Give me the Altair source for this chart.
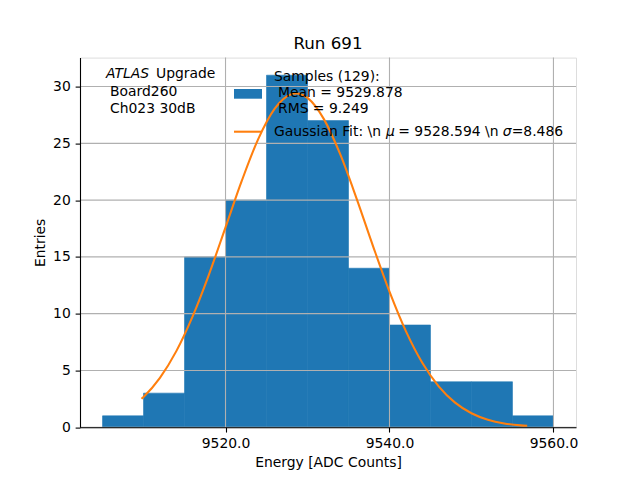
import altair as alt
import pandas as pd

# Histogram bins (ADC counts) and entries
bin_start = [9505, 9510, 9515, 9520, 9525, 9530, 9535, 9540, 9545, 9550, 9555]
bin_end = [9510, 9515, 9520, 9525, 9530, 9535, 9540, 9545, 9550, 9555, 9560]
counts = [1, 3, 15, 20, 31, 27, 14, 9, 4, 4, 1]

# Gaussian fit curve
fit_x = [9509.75, 9510, 9512, 9514, 9516, 9518, 9520, 9522, 9524, 9526, 9528, 9528.6,
         9530, 9532, 9534, 9536, 9538, 9540, 9542, 9544, 9546, 9548, 9550, 9552,
         9554, 9556, 9556.8]
fit_y = [2.50, 2.67, 4.35, 6.70, 9.78, 13.49, 17.60, 21.73, 25.39, 28.05, 29.33, 29.40,
         29.00, 27.13, 24.02, 20.11, 15.93, 11.94, 8.46, 5.67, 3.60, 2.16, 1.23, 0.66,
         0.33, 0.16, 0.12]

x_ticks = [9520, 9540, 9560]
y_ticks = [0, 5, 10, 15, 20, 25, 30]

title_text = "Run 691"
x_title = "Energy [ADC Counts]"
y_title = "Entries"
label_lines = ["Board260", "Ch023 30dB"]
samples_lines = ["Samples (129):", "Mean = 9529.878", "RMS = 9.249"]

FONT = "DejaVu Sans"
FS = 13.9
BLUE = "#1f77b4"
ORANGE = "#ff7f0e"

hist = pd.DataFrame({"start": bin_start, "end": bin_end, "count": counts})
fit = pd.DataFrame({"x": fit_x, "y": fit_y})

xs = alt.Scale(domain=[9502.25, 9562.75], nice=False, zero=False)
ys = alt.Scale(domain=[0, 32.55], nice=False, zero=False)

common_axis = dict(
    grid=False, tickSize=4.86, tickWidth=1.1, tickColor="black",
    domainColor="black", domainWidth=1.1, labelFont=FONT, labelFontSize=FS,
    labelColor="black", labelPadding=4.86, titleFont=FONT, titleFontSize=FS,
    titleFontWeight="normal", titleColor="black", zindex=1,
    labelFlush=False, labelOverlap=False,
)

xaxis = alt.Axis(values=x_ticks, format=".1f", title=x_title, titlePadding=5.0, **common_axis)
yaxis = alt.Axis(values=y_ticks, format="d", title=y_title, titlePadding=5.6, **common_axis)

bars = alt.Chart(hist).mark_rect(color=BLUE, stroke=BLUE, strokeWidth=0.6).encode(
    x=alt.X("start:Q", scale=xs, axis=xaxis),
    x2="end:Q",
    y=alt.Y("count:Q", scale=ys, axis=yaxis),
    y2=alt.datum(0),
)

vgrid = alt.Chart(pd.DataFrame({"v": x_ticks})).mark_rule(color="#b0b0b0", strokeWidth=1.1).encode(
    x=alt.X("v:Q", scale=xs, axis=xaxis)
)
hgrid = alt.Chart(pd.DataFrame({"v": y_ticks})).mark_rule(color="#b0b0b0", strokeWidth=1.1).encode(
    y=alt.Y("v:Q", scale=ys, axis=yaxis)
)

curve = alt.Chart(fit).mark_line(color=ORANGE, strokeWidth=2.08, interpolate="monotone").encode(
    x=alt.X("x:Q", scale=xs, axis=xaxis),
    y=alt.Y("y:Q", scale=ys, axis=yaxis),
)


def txt(s, x, y, style="normal", size=FS, align="left"):
    return alt.Chart(pd.DataFrame({"t": [s]})).mark_text(
        align=align, baseline="alphabetic", font=FONT, fontSize=size,
        fontStyle=style, color="black"
    ).encode(x=alt.value(x), y=alt.value(y), text="t:N")


one = pd.DataFrame({"k": [0]})
patch = alt.Chart(one).mark_rect(color=BLUE).encode(
    x=alt.value(154), x2=alt.value(182), y=alt.value(31.4), y2=alt.value(41.1)
)
leg_line = alt.Chart(one).mark_rule(color=ORANGE, strokeWidth=2.08).encode(
    x=alt.value(154), x2=alt.value(182), y=alt.value(74.1)
)

texts = [
    txt(title_text, 248, -8.3, size=16.7, align="center"),
    txt("ATLAS", 26, 20.7, "italic"),
    txt("Upgrade", 76, 20.7),
    txt(label_lines[0], 30, 38.4),
    txt(label_lines[1], 30, 55.1),
    txt(samples_lines[0], 194, 23.1),
    txt(samples_lines[1], 198, 39.1),
    txt(samples_lines[2], 198, 55.7),
    txt("Gaussian Fit: \\n", 194, 78.4),
    txt("\u03bc", 306, 78.4, "italic"),
    txt("= 9528.594 \\n", 318.3, 78.4),
    txt("\u03c3", 422.7, 78.4, "italic"),
    txt("=8.486", 431.7, 78.4),
]

chart = alt.layer(bars, vgrid, hgrid, curve, patch, leg_line, *texts).properties(
    width=496,
    height=369.6,
    autosize=alt.AutoSizeParams(type="none"),
    padding={"left": 72, "top": 49.6, "right": 56, "bottom": 44.8},
).configure_view(stroke="black", strokeWidth=1.1).configure(background="white")

chart.save("out.html", embed_options={"renderer": "svg", "actions": False})
